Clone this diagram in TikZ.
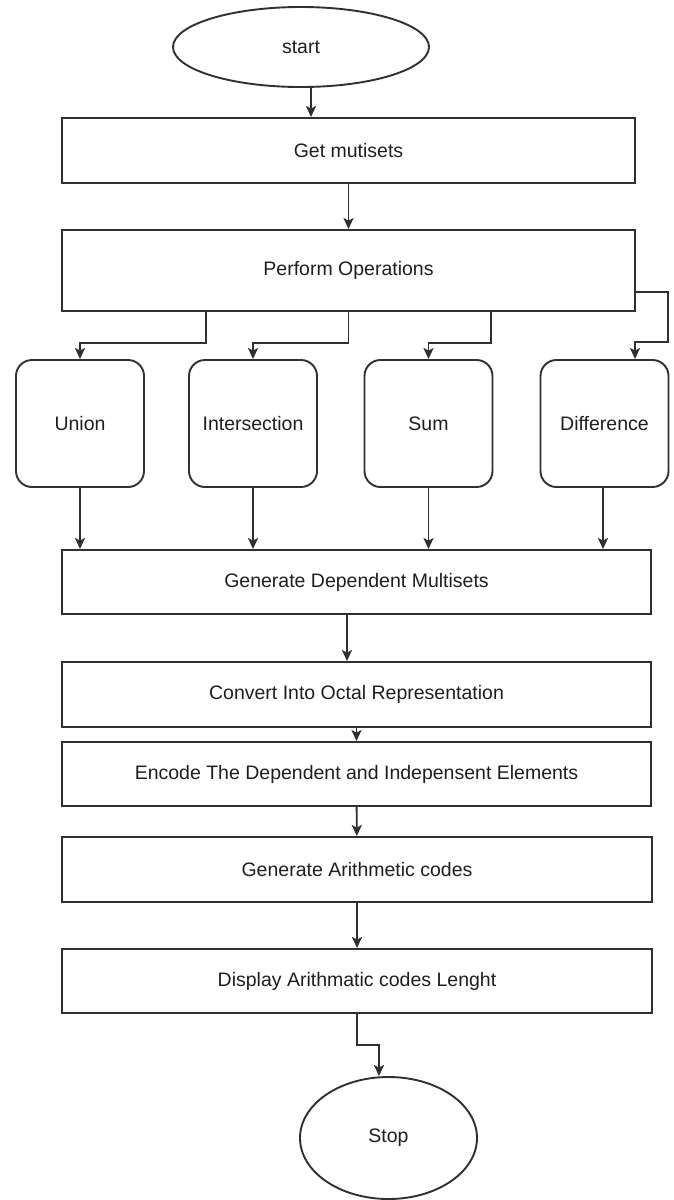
\documentclass[tikz,border=0pt]{standalone}
\usepackage{fontspec}
\setmainfont{Liberation Sans}
\usetikzlibrary{arrows.meta,shapes.geometric,calc}
\definecolor{linec}{HTML}{303030}
\definecolor{textc}{HTML}{1E1E1E}
\tikzset{
  base/.style={draw=linec, line width=1.9pt, text=textc, inner sep=0pt,
    font=\fontsize{19.5}{23}\selectfont},
  procbox/.style={base, rectangle, minimum height=64pt},
  opbox/.style={base, rectangle, rounded corners=16pt, minimum width=128pt, minimum height=127pt},
  term/.style={base, ellipse},
  arr/.style={draw=linec, line width=1.9pt, -{Stealth[length=11pt,width=10pt,inset=2.5pt]}}
}
\begin{document}
\begin{tikzpicture}[x=1pt,y=-1pt]
\useasboundingbox (0,0) rectangle (674,1200);
\node[term, minimum width=256pt, minimum height=80pt] (start) at (301,47) {start};
\node[procbox, minimum width=573pt, minimum height=65pt] (get) at (348.5,150.5) {Get mutisets};
\node[procbox, minimum width=573pt, minimum height=81pt] (perf) at (348.5,270.5) {Perform Operations};
\node[opbox] (union) at (80,423.5) {Union};
\node[opbox] (inter) at (253,423.5) {Intersection};
\node[opbox] (sum) at (428.5,423.5) {Sum};
\node[opbox] (diff) at (604.5,423.5) {Difference};
\node[procbox, minimum width=589pt] (gendep) at (356.5,582) {Generate Dependent Multisets};
\node[procbox, minimum width=589pt, minimum height=65pt] (conv) at (356.5,694.5) {Convert Into Octal Representation};
\node[procbox, minimum width=589pt] (enc) at (356.5,774) {Encode The Dependent and Indepensent Elements};
\node[procbox, minimum width=590pt, minimum height=65pt] (arith) at (357,869.5) {Generate Arithmetic codes};
\node[procbox, minimum width=590pt] (disp) at (357,981) {Display Arithmatic codes Lenght};
\node[term, minimum width=177pt, minimum height=122pt] (stop) at (388.5,1138) {Stop};

\draw[arr] ([xshift=10pt]start.south) -- ([xshift=10pt]start.south |- get.north);
\draw[arr] (get) -- (perf);
\draw[arr] ([xshift=-142.5pt]perf.south) -- ++(0,31) -| (union.north);
\draw[arr] (perf.south) -- ++(0,31) -| (inter.north);
\draw[arr] ([xshift=142.5pt]perf.south) -- ++(0,31) -| (sum.north);
\draw[arr] ([yshift=-21.5pt]perf.east) -| ++(32,50) -| ([xshift=30.5pt]diff.north);
\draw[arr] (union.south) -- (union.south |- gendep.north);
\draw[arr] (inter.south) -- (inter.south |- gendep.north);
\draw[arr] (sum.south) -- (sum.south |- gendep.north);
\draw[arr] ([xshift=-1.5pt]diff.south) -- ([xshift=-1.5pt]diff.south |- gendep.north);
\draw[arr] ([xshift=-9.5pt]gendep.south) -- ([xshift=-9.5pt]conv.north);
\draw[arr] (conv) -- (enc);
\draw[arr] (enc) -- (arith);
\draw[arr] (arith) -- (disp);
\draw[arr] (disp.south) -- ++(0,31) -| ([xshift=-9.5pt]stop.north);
\end{tikzpicture}
\end{document}
